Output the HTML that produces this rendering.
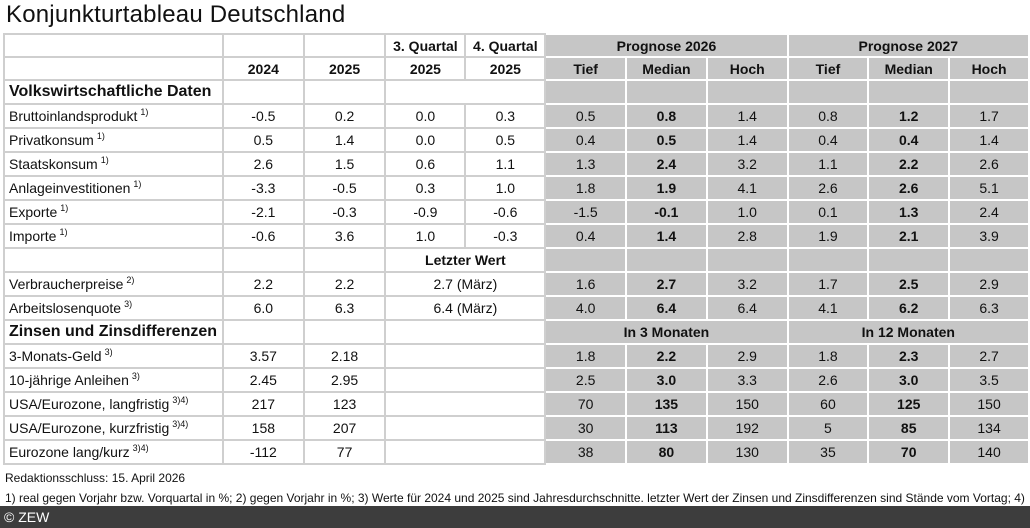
<!DOCTYPE html>
<html><head><meta charset="utf-8"><style>
body{margin:0;width:1030px;height:528px;overflow:hidden;background:#fff;font-family:"Liberation Sans",sans-serif;color:#111;position:relative}
h1{position:absolute;left:6px;top:1px;margin:0;font-size:24px;font-weight:normal;letter-spacing:0.2px}
table{position:absolute;left:3px;top:33px;border-collapse:collapse;table-layout:fixed;font-size:14px}
td{border:2px solid #cfcfcf;height:22px;padding:0;text-align:center;white-space:nowrap;overflow:hidden;line-height:16px}
tr.h td{height:21px}
td.l{text-align:left;padding-left:4px}
td.g{background:#c6c6c6;border-color:#fff}
td.b{font-weight:bold}
tr.h td{font-weight:bold}
td.s{font-size:16px;font-weight:bold;text-align:left;padding-left:4px}
sup{font-size:9px;vertical-align:6px;margin-left:3px;line-height:0}
.f{position:absolute;left:5px;font-size:12px}
.bar{position:absolute;left:0;top:506px;width:1030px;height:22px;background:#3d3d3d;color:#fff;font-size:14px;line-height:22px;padding-left:4px}
</style></head><body>
<h1>Konjunkturtableau Deutschland</h1>
<table>
<colgroup><col style="width:219px"><col style="width:81px"><col style="width:82px"><col style="width:80px"><col style="width:80px"><col style="width:81px"><col style="width:81px"><col style="width:81px"><col style="width:81px"><col style="width:81px"><col style="width:80px"></colgroup>
<tr class="h"><td></td><td></td><td></td><td>3. Quartal</td><td>4. Quartal</td><td class="g" colspan="3">Prognose 2026</td><td class="g" colspan="3">Prognose 2027</td></tr>
<tr class="h"><td></td><td>2024</td><td>2025</td><td>2025</td><td>2025</td><td class="g">Tief</td><td class="g">Median</td><td class="g">Hoch</td><td class="g">Tief</td><td class="g">Median</td><td class="g">Hoch</td></tr>
<tr><td class="s">Volkswirtschaftliche Daten</td><td></td><td></td><td colspan="2"></td><td class="g"></td><td class="g"></td><td class="g"></td><td class="g"></td><td class="g"></td><td class="g"></td></tr>
<tr><td class="l">Bruttoinlandsprodukt<sup>1)</sup></td><td>-0.5</td><td>0.2</td><td>0.0</td><td>0.3</td><td class="g">0.5</td><td class="g b">0.8</td><td class="g">1.4</td><td class="g">0.8</td><td class="g b">1.2</td><td class="g">1.7</td></tr>
<tr><td class="l">Privatkonsum<sup>1)</sup></td><td>0.5</td><td>1.4</td><td>0.0</td><td>0.5</td><td class="g">0.4</td><td class="g b">0.5</td><td class="g">1.4</td><td class="g">0.4</td><td class="g b">0.4</td><td class="g">1.4</td></tr>
<tr><td class="l">Staatskonsum<sup>1)</sup></td><td>2.6</td><td>1.5</td><td>0.6</td><td>1.1</td><td class="g">1.3</td><td class="g b">2.4</td><td class="g">3.2</td><td class="g">1.1</td><td class="g b">2.2</td><td class="g">2.6</td></tr>
<tr><td class="l">Anlageinvestitionen<sup>1)</sup></td><td>-3.3</td><td>-0.5</td><td>0.3</td><td>1.0</td><td class="g">1.8</td><td class="g b">1.9</td><td class="g">4.1</td><td class="g">2.6</td><td class="g b">2.6</td><td class="g">5.1</td></tr>
<tr><td class="l">Exporte<sup>1)</sup></td><td>-2.1</td><td>-0.3</td><td>-0.9</td><td>-0.6</td><td class="g">-1.5</td><td class="g b">-0.1</td><td class="g">1.0</td><td class="g">0.1</td><td class="g b">1.3</td><td class="g">2.4</td></tr>
<tr><td class="l">Importe<sup>1)</sup></td><td>-0.6</td><td>3.6</td><td>1.0</td><td>-0.3</td><td class="g">0.4</td><td class="g b">1.4</td><td class="g">2.8</td><td class="g">1.9</td><td class="g b">2.1</td><td class="g">3.9</td></tr>
<tr><td></td><td></td><td></td><td colspan="2" class="b">Letzter Wert</td><td class="g"></td><td class="g"></td><td class="g"></td><td class="g"></td><td class="g"></td><td class="g"></td></tr>
<tr><td class="l">Verbraucherpreise<sup>2)</sup></td><td>2.2</td><td>2.2</td><td colspan="2">2.7 (März)</td><td class="g">1.6</td><td class="g b">2.7</td><td class="g">3.2</td><td class="g">1.7</td><td class="g b">2.5</td><td class="g">2.9</td></tr>
<tr><td class="l">Arbeitslosenquote<sup>3)</sup></td><td>6.0</td><td>6.3</td><td colspan="2">6.4 (März)</td><td class="g">4.0</td><td class="g b">6.4</td><td class="g">6.4</td><td class="g">4.1</td><td class="g b">6.2</td><td class="g">6.3</td></tr>
<tr><td class="s">Zinsen und Zinsdifferenzen</td><td></td><td></td><td colspan="2"></td><td class="g b" colspan="3">In 3 Monaten</td><td class="g b" colspan="3">In 12 Monaten</td></tr>
<tr><td class="l">3-Monats-Geld<sup>3)</sup></td><td>3.57</td><td>2.18</td><td colspan="2"></td><td class="g">1.8</td><td class="g b">2.2</td><td class="g">2.9</td><td class="g">1.8</td><td class="g b">2.3</td><td class="g">2.7</td></tr>
<tr><td class="l">10-jährige Anleihen<sup>3)</sup></td><td>2.45</td><td>2.95</td><td colspan="2"></td><td class="g">2.5</td><td class="g b">3.0</td><td class="g">3.3</td><td class="g">2.6</td><td class="g b">3.0</td><td class="g">3.5</td></tr>
<tr><td class="l">USA/Eurozone, langfristig<sup>3)4)</sup></td><td>217</td><td>123</td><td colspan="2"></td><td class="g">70</td><td class="g b">135</td><td class="g">150</td><td class="g">60</td><td class="g b">125</td><td class="g">150</td></tr>
<tr><td class="l">USA/Eurozone, kurzfristig<sup>3)4)</sup></td><td>158</td><td>207</td><td colspan="2"></td><td class="g">30</td><td class="g b">113</td><td class="g">192</td><td class="g">5</td><td class="g b">85</td><td class="g">134</td></tr>
<tr><td class="l">Eurozone lang/kurz<sup>3)4)</sup></td><td>-112</td><td>77</td><td colspan="2"></td><td class="g">38</td><td class="g b">80</td><td class="g">130</td><td class="g">35</td><td class="g b">70</td><td class="g">140</td></tr>
</table>
<div class="f" style="top:471px">Redaktionsschluss: 15. April 2026</div>
<div class="f" style="top:491px">1) real gegen Vorjahr bzw. Vorquartal in %; 2) gegen Vorjahr in %; 3) Werte für 2024 und 2025 sind Jahresdurchschnitte. letzter Wert der Zinsen und Zinsdifferenzen sind Stände vom Vortag; 4) in</div>
<div class="bar">© ZEW</div>
</body></html>
